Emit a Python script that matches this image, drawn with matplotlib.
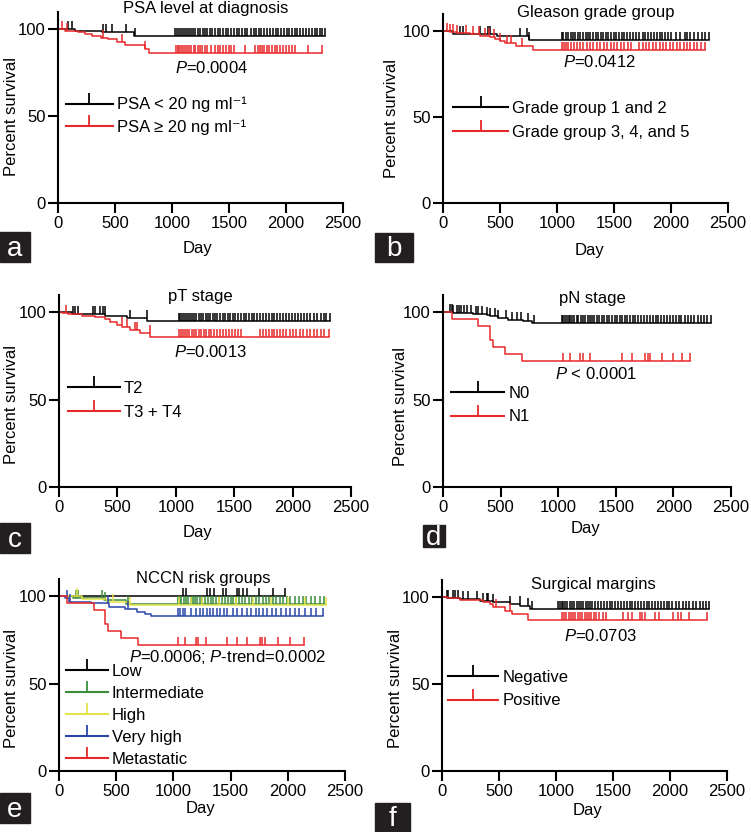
import numpy as np
import matplotlib
matplotlib.use('Agg')
import matplotlib.pyplot as plt
from matplotlib.lines import Line2D
from matplotlib.patches import Rectangle

plt.rcParams['font.family'] = ['Liberation Sans', 'DejaVu Sans']
plt.rcParams['mathtext.fontset'] = 'custom'
plt.rcParams['mathtext.rm'] = 'Liberation Sans'
plt.rcParams['mathtext.it'] = 'Liberation Sans:italic'

W, H = 751, 832
FS = 12
RED = '#e8282b'
BLACK = '#000000'
GREEN = '#3c8c3c'
YELLOW = '#e3e34a'
BLUE = '#2a46a8'

# ---- data: event times (day) / survival after event (%), censor times ----
# a: PSA level at diagnosis
a_lo_t = [150, 385, 665]
a_lo_s = [98.9, 98.0, 95.9]
a_lo_c = [91, 120, 398, 418, 477, 594, 675, 1030, 1045, 1060, 1080, 1095, 1110, 1130, 1150,
          1165, 1185, 1200, 1225, 1245, 1270, 1290, 1310, 1335, 1355, 1380, 1400, 1425, 1450,
          1470, 1495, 1520, 1545, 1570, 1590, 1615, 1640, 1660, 1690, 1715, 1740, 1760, 1785,
          1810, 1835, 1860, 1885, 1910, 1930, 1955, 1980, 2005, 2030, 2055, 2080, 2100, 2125,
          2150, 2175, 2200, 2225, 2250, 2270, 2295, 2320, 2340]
a_hi_t = [60, 175, 235, 295, 380, 440, 515, 590, 760, 795]
a_hi_s = [99.0, 98.0, 97.3, 96.0, 95.0, 94.3, 92.5, 90.8, 88.5, 86.0]
a_hi_c = [32, 76, 398, 558, 763, 1035, 1050, 1065, 1080, 1100, 1115, 1135, 1150, 1170, 1190,
          1205, 1225, 1245, 1265, 1290, 1310, 1340, 1380, 1400, 1420, 1445, 1470, 1500, 1520,
          1545, 1640, 1730, 1750, 1770, 1790, 1810, 1830, 1855, 1875, 1900, 1925, 1950, 1975,
          2000, 2025, 2050, 2075, 2195, 2320]

# b: Gleason grade group
b_lo_t = [90, 470, 750]
b_lo_s = [98.5, 97.0, 95.0]
b_lo_c = [149, 178, 325, 398, 412, 675, 734, 757, 1040, 1055, 1075, 1095, 1120, 1140, 1160,
          1180, 1200, 1225, 1250, 1270, 1290, 1315, 1340, 1360, 1385, 1405, 1430, 1450, 1475,
          1500, 1520, 1545, 1570, 1590, 1615, 1640, 1665, 1690, 1720, 1750, 1775, 1800, 1825,
          1850, 1875, 1900, 1925, 1950, 1975, 2000, 2040, 2080, 2120, 2140, 2170, 2200, 2240,
          2270, 2300, 2335]
b_hi_t = [60, 120, 235, 325, 410, 455, 500, 545, 640, 790]
b_hi_s = [99.2, 98.6, 98.0, 97.3, 96.5, 95.4, 94.2, 92.9, 91.5, 89.2]
b_hi_c = [35, 60, 90, 120, 200, 260, 320, 370, 400, 450, 500, 560, 600, 690, 1040, 1060, 1080,
          1100, 1125, 1150, 1175, 1200, 1230, 1260, 1290, 1320, 1350, 1380, 1410, 1440, 1470,
          1500, 1530, 1560, 1590, 1620, 1650, 1720, 1750, 1780, 1810, 1840, 1870, 1900, 1930,
          1960, 1990, 2020, 2050, 2080, 2110, 2140, 2170, 2200, 2230, 2260, 2300]

# c: pT stage
c_lo_t = [110, 395, 585, 755]
c_lo_s = [99.0, 98.0, 96.6, 95.0]
c_lo_c = [123, 137, 165, 294, 308, 351, 380, 394, 608, 750, 1025, 1040, 1055, 1070, 1090, 1105,
          1120, 1140, 1160, 1175, 1195, 1215, 1235, 1255, 1275, 1295, 1315, 1335, 1355, 1380,
          1400, 1420, 1445, 1465, 1490, 1510, 1535, 1555, 1580, 1600, 1625, 1650, 1670, 1695,
          1720, 1745, 1770, 1795, 1820, 1845, 1870, 1895, 1920, 1945, 1970, 1995, 2020, 2045,
          2070, 2100, 2125, 2150, 2180, 2210, 2240, 2265, 2290, 2320]
c_hi_t = [25, 80, 195, 310, 395, 440, 495, 540, 610, 690, 780]
c_hi_s = [99.3, 98.7, 97.9, 97.0, 95.8, 94.4, 92.8, 91.2, 89.8, 88.0, 85.9]
c_hi_c = [60, 536, 579, 650, 665, 779, 1030, 1045, 1060, 1080, 1100, 1115, 1135, 1155, 1175,
          1195, 1215, 1240, 1260, 1285, 1305, 1330, 1355, 1380, 1405, 1430, 1455, 1480, 1505,
          1530, 1555, 1720, 1745, 1770, 1795, 1820, 1845, 1870, 1895, 1920, 1945, 1975, 2000,
          2030, 2060, 2090, 2120, 2150, 2180, 2210, 2240, 2270, 2310]

# d: pN stage
d_lo_t = [90, 260, 380, 410, 480, 565, 695, 770]
d_lo_s = [99.4, 98.9, 98.5, 97.6, 96.6, 95.6, 94.6, 93.6]
d_lo_c = [60, 75, 90, 120, 135, 160, 185, 210, 240, 290, 300, 340, 380, 410, 450, 480, 550, 595,
          640, 680, 740, 790, 1030, 1045, 1060, 1075, 1090, 1105, 1120, 1140, 1160, 1175, 1195,
          1215, 1235, 1255, 1275, 1295, 1315, 1335, 1355, 1380, 1400, 1420, 1445, 1465, 1490,
          1510, 1535, 1555, 1580, 1600, 1625, 1650, 1670, 1695, 1720, 1745, 1770, 1795, 1820,
          1845, 1870, 1895, 1920, 1945, 1970, 1995, 2020, 2045, 2070, 2100, 2125, 2150, 2180,
          2210, 2240, 2265, 2290, 2330]
d_hi_t = [75, 307, 408, 437, 538, 683]
d_hi_s = [96, 92, 84, 80, 76, 72]
d_hi_c = [1045, 1102, 1189, 1218, 1276, 1551, 1638, 1754, 1783, 1797, 1899, 2000, 2072, 2144]

# e: NCCN risk groups
e_low_t = []
e_low_s = []
e_low_c = [1081, 1110, 1290, 1319, 1354, 1430, 1460, 1552, 1576, 1605, 1640, 1751, 1873, 1975]
e_int_t = [120, 390, 590]
e_int_s = [98.8, 97.5, 95.6]
e_int_c = [150, 170, 380, 400, 600, 1040, 1055, 1070, 1090, 1110, 1130, 1150, 1170, 1190, 1210,
           1230, 1250, 1275, 1300, 1325, 1350, 1375, 1400, 1425, 1450, 1475, 1500, 1525, 1550,
           1575, 1600, 1630, 1660, 1690, 1720, 1750, 1780, 1810, 1840, 1870, 1900, 1930, 1960,
           1990, 2020, 2060, 2100, 2130, 2160, 2200, 2240, 2280, 2320]
e_high_t = [200, 420, 610]
e_high_s = [98.3, 96.5, 94.6]
e_high_c = [160, 470, 620, 1050, 1150, 1250, 1400, 1550, 1700, 1850, 2000, 2150, 2330]
e_vh_t = [50, 90, 280, 440, 575, 680, 750, 800]
e_vh_s = [99.0, 96.8, 95.8, 94.0, 92.4, 91.0, 89.6, 88.3]
e_vh_c = [70, 100, 430, 600, 1040, 1060, 1080, 1100, 1150, 1200, 1230, 1260, 1290, 1320, 1350,
          1380, 1410, 1440, 1470, 1520, 1560, 1600, 1640, 1680, 1720, 1750, 1780, 1820, 1860,
          1900, 1940, 1980, 2020, 2060, 2100, 2150, 2200, 2250, 2310]
e_met_t = [70, 310, 400, 430, 545, 690]
e_met_s = [96, 92, 84, 80, 76, 72]
e_met_c = [1043, 1101, 1197, 1218, 1285, 1465, 1553, 1640, 1757, 1771, 1800, 1917, 2019, 2140]

# f: Surgical margins
f_neg_t = [40, 160, 330, 450, 595, 685, 770]
f_neg_s = [99.4, 98.9, 97.9, 96.9, 95.8, 94.6, 93.1]
f_neg_c = [41, 56, 99, 114, 143, 187, 231, 304, 363, 392, 406, 450, 596, 684, 757, 786, 1020, 1035,
           1050, 1065, 1080, 1100, 1120, 1140, 1160, 1180, 1200, 1220, 1240, 1260, 1280, 1300,
           1320, 1345, 1370, 1395, 1420, 1445, 1470, 1495, 1520, 1545, 1570, 1595, 1620, 1645,
           1670, 1695, 1720, 1745, 1770, 1795, 1820, 1845, 1870, 1895, 1920, 1945, 1970, 1995,
           2020, 2050, 2080, 2110, 2140, 2170, 2200, 2230, 2260, 2290, 2320, 2345]
f_pos_t = [40, 160, 360, 420, 445, 550, 610, 750]
f_pos_s = [99.2, 98.3, 97.3, 95.8, 94.0, 92.0, 90.0, 86.8]
f_pos_c = [470, 600, 1050, 1070, 1090, 1110, 1130, 1150, 1170, 1190, 1210, 1230, 1250, 1270, 1290,
           1310, 1330, 1350, 1380, 1410, 1440, 1590, 1633, 1663, 1736, 1758, 1780, 1868, 1900,
           2030, 2070, 2100, 2170, 2322]

titles = ['PSA level at diagnosis', 'Gleason grade group', 'pT stage', 'pN stage',
          'NCCN risk groups', 'Surgical margins']
pvals = [r'$\it{P}$=0.0004', r'$\it{P}$=0.0412', r'$\it{P}$=0.0013', r'$\it{P}$ < 0.0001',
         r'$\it{P}$=0.0006; $\it{P}$-trend=0.0002', r'$\it{P}$=0.0703']
letters = ['a', 'b', 'c', 'd', 'e', 'f']

panels = [
    [(a_lo_t, a_lo_s, a_lo_c, BLACK, 'PSA < 20 ng ml⁻¹'),
     (a_hi_t, a_hi_s, a_hi_c, RED, 'PSA ≥ 20 ng ml⁻¹')],
    [(b_lo_t, b_lo_s, b_lo_c, BLACK, 'Grade group 1 and 2'),
     (b_hi_t, b_hi_s, b_hi_c, RED, 'Grade group 3, 4, and 5')],
    [(c_lo_t, c_lo_s, c_lo_c, BLACK, 'T2'),
     (c_hi_t, c_hi_s, c_hi_c, RED, 'T3 + T4')],
    [(d_lo_t, d_lo_s, d_lo_c, BLACK, 'N0'),
     (d_hi_t, d_hi_s, d_hi_c, RED, 'N1')],
    [(e_low_t, e_low_s, e_low_c, BLACK, 'Low'),
     (e_int_t, e_int_s, e_int_c, GREEN, 'Intermediate'),
     (e_high_t, e_high_s, e_high_c, YELLOW, 'High'),
     (e_vh_t, e_vh_s, e_vh_c, BLUE, 'Very high'),
     (e_met_t, e_met_s, e_met_c, RED, 'Metastatic')],
    [(f_neg_t, f_neg_s, f_neg_c, BLACK, 'Negative'),
     (f_pos_t, f_pos_s, f_pos_c, RED, 'Positive')],
]

# ---- layout in pixels ----
# axes: left, right(x=2500), y of 0, y of 100
axbox = [(58, 343, 203, 29), (443, 728, 203, 31), (59, 351, 487, 312),
         (443, 731, 487, 312), (59, 345, 771, 596), (442, 727, 771, 597)]
title_xy = [(206, 9), (596, 13), (200, 296), (592, 298), (203, 579), (593, 584)]
ylab_xy = [(12, 117), (392, 118), (12, 405), (400, 407), (12, 688), (395, 688)]
xlab_xy = [(197, 248), (590, 250), (198, 532), (586, 528), (200, 808), (588, 810)]
p_xy = [(1351, 77.6), (1368, 82), (1293, 77.3), (1331, 64.4), (1477, 65.3), (1392, 77.6)]
leg_xy = [(66, 97), (453, 101), (68, 381), (451, 386), (66, 664), (448, 670)]
leg_len = [2.8, 3.3, 3.1, 3.2, 2.5, 3.0]
leg_sp = [0.42, 0.55, 0.55, 0.5, 0.42, 0.5]
box_px = [(0, 232, 30, 30), (375, 233, 38, 29), (0, 523, 30, 30),
          (423, 525, 22, 22), (0, 793, 30, 30), (375, 803, 35, 29)]


def km(ax, t, s, c, color):
    times = [0] + list(t)
    surv = [100] + list(s)
    end = max(c + list(t))
    ax.step(times + [end], surv + [surv[-1]], where='post', color=color, lw=1.1)
    idx = np.searchsorted(times, c, side='right') - 1
    cy = np.array(surv)[idx]
    ax.plot(c, cy, ls='none', marker=2, ms=6, mew=1.1, color=color)


fig = plt.figure(figsize=(W / 100, H / 100), dpi=100)

for i in range(6):
    l, r, y0, y100 = axbox[i]
    pu = (y0 - y100) / 100
    ax = fig.add_axes([l / W, 1 - y0 / H, (r - l) / W, 110 * pu / H])
    for t, s, c, color, lab in panels[i]:
        km(ax, t, s, c, color)
    ax.set_xlim(0, 2500)
    ax.set_ylim(0, 110)
    ax.set_xticks([0, 500, 1000, 1500, 2000, 2500])
    ax.set_yticks([0, 50, 100])
    for side in ['top', 'right']:
        ax.spines[side].set_visible(False)
    for side in ['left', 'bottom']:
        ax.spines[side].set_linewidth(1.5)
    ax.tick_params(length=7, width=1.5, labelsize=FS, pad=2)
    ax.text(p_xy[i][0], p_xy[i][1], pvals[i], ha='center', va='center', fontsize=FS)

    handles = [Line2D([], [], color=color, lw=1.5, marker=2, ms=8, mew=1.3)
               for t, s, c, color, lab in panels[i]]
    labels = [lab for t, s, c, color, lab in panels[i]]
    ax.legend(handles, labels, loc='upper left', frameon=False, fontsize=FS,
              bbox_to_anchor=(leg_xy[i][0] / W, 1 - leg_xy[i][1] / H),
              bbox_transform=fig.transFigure, borderpad=0, borderaxespad=0,
              handlelength=leg_len[i], handletextpad=0.25, labelspacing=leg_sp[i],
              numpoints=1)

    fig.text(title_xy[i][0] / W, 1 - title_xy[i][1] / H, titles[i],
             ha='center', va='center', fontsize=FS)
    fig.text(ylab_xy[i][0] / W, 1 - ylab_xy[i][1] / H, 'Percent survival',
             ha='center', va='center', rotation=90, fontsize=FS)
    fig.text(xlab_xy[i][0] / W, 1 - xlab_xy[i][1] / H, 'Day',
             ha='center', va='center', fontsize=FS)

    bx, by, bw, bh = box_px[i]
    fig.patches.append(Rectangle((bx / W, 1 - (by + bh) / H), bw / W, bh / H,
                                 transform=fig.transFigure, color='#231f20'))
    fig.text((bx + bw / 2) / W, 1 - (by + bh / 2 + 2) / H, letters[i], color='white',
             ha='center', va='center', fontsize=20)

fig.savefig('out.png', dpi=100)
